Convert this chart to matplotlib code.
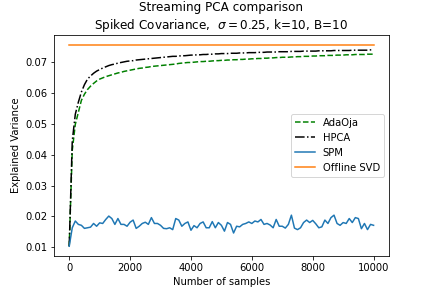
import numpy as np
import matplotlib
matplotlib.use("Agg")
import matplotlib.pyplot as plt

# Sample counts (every 100 samples)
n_samples = list(range(0, 10001, 100))

# Explained variance
adaoja = [0.0103, 0.0415, 0.0499, 0.0538, 0.0577, 0.0597, 0.0612, 0.0623, 0.0632, 0.0640,
          0.0646, 0.0650, 0.0654, 0.0657, 0.0660, 0.0663, 0.0666, 0.0668, 0.0671, 0.0673,
          0.0675, 0.0677, 0.0679, 0.0681, 0.0682, 0.0684, 0.0685, 0.0687, 0.0688, 0.0689,
          0.0690, 0.0691, 0.0692, 0.0693, 0.0694, 0.0695, 0.0697, 0.0698, 0.0699, 0.0700,
          0.0700, 0.0701, 0.0702, 0.0703, 0.0703, 0.0704, 0.0704, 0.0705, 0.0706, 0.0706,
          0.0707, 0.0707, 0.0708, 0.0708, 0.0709, 0.0709, 0.0710, 0.0710, 0.0711, 0.0711,
          0.0712, 0.0712, 0.0713, 0.0713, 0.0714, 0.0714, 0.0715, 0.0715, 0.0716, 0.0716,
          0.0717, 0.0717, 0.0717, 0.0718, 0.0718, 0.0719, 0.0719, 0.0720, 0.0720, 0.0720,
          0.0721, 0.0721, 0.0722, 0.0722, 0.0722, 0.0723, 0.0723, 0.0723, 0.0724, 0.0724,
          0.0724, 0.0725, 0.0725, 0.0725, 0.0726, 0.0726, 0.0726, 0.0726, 0.0727, 0.0727,
          0.0727]

hpca = [0.0103, 0.0445, 0.0532, 0.0571, 0.0604, 0.0628, 0.0646, 0.0656, 0.0665, 0.0672,
        0.0677, 0.0682, 0.0686, 0.0690, 0.0693, 0.0695, 0.0698, 0.0700, 0.0702, 0.0704,
        0.0705, 0.0706, 0.0708, 0.0709, 0.0710, 0.0711, 0.0712, 0.0713, 0.0714, 0.0715,
        0.0716, 0.0717, 0.0718, 0.0719, 0.0720, 0.0720, 0.0721, 0.0722, 0.0722, 0.0723,
        0.0724, 0.0724, 0.0725, 0.0725, 0.0726, 0.0726, 0.0727, 0.0727, 0.0728, 0.0728,
        0.0729, 0.0729, 0.0729, 0.0730, 0.0730, 0.0730, 0.0731, 0.0731, 0.0731, 0.0732,
        0.0732, 0.0732, 0.0733, 0.0733, 0.0733, 0.0734, 0.0734, 0.0734, 0.0734, 0.0735,
        0.0735, 0.0735, 0.0735, 0.0736, 0.0736, 0.0736, 0.0736, 0.0737, 0.0737, 0.0737,
        0.0737, 0.0737, 0.0738, 0.0738, 0.0738, 0.0738, 0.0738, 0.0739, 0.0739, 0.0739,
        0.0739, 0.0739, 0.0739, 0.0740, 0.0740, 0.0740, 0.0740, 0.0740, 0.0740, 0.0741,
        0.0741]

spm = [0.0103, 0.0163, 0.0185, 0.0174, 0.0171, 0.0161, 0.0163, 0.0165, 0.0177, 0.0168,
       0.0179, 0.0177, 0.0190, 0.0201, 0.0193, 0.0174, 0.0193, 0.0174, 0.0174, 0.0168,
       0.0181, 0.0188, 0.0161, 0.0168, 0.0177, 0.0181, 0.0174, 0.0196, 0.0177, 0.0177,
       0.0171, 0.0161, 0.0160, 0.0163, 0.0157, 0.0193, 0.0188, 0.0168, 0.0177, 0.0182,
       0.0155, 0.0170, 0.0163, 0.0177, 0.0182, 0.0163, 0.0163, 0.0183, 0.0163, 0.0180,
       0.0171, 0.0152, 0.0180, 0.0174, 0.0146, 0.0168, 0.0166, 0.0174, 0.0177, 0.0182,
       0.0177, 0.0185, 0.0182, 0.0190, 0.0174, 0.0177, 0.0172, 0.0163, 0.0190, 0.0168,
       0.0168, 0.0162, 0.0174, 0.0204, 0.0162, 0.0157, 0.0163, 0.0180, 0.0188, 0.0180,
       0.0187, 0.0176, 0.0163, 0.0166, 0.0188, 0.0177, 0.0196, 0.0204, 0.0177, 0.0171,
       0.0180, 0.0177, 0.0193, 0.0180, 0.0196, 0.0193, 0.0160, 0.0177, 0.0157, 0.0174,
       0.0171]

offline_svd = 0.0758

fig, ax = plt.subplots(figsize=(6, 4), dpi=72)

ax.plot(n_samples, adaoja, 'g--', label='AdaOja')
ax.plot(n_samples, hpca, 'k-.', label='HPCA')
ax.plot(n_samples, spm, color='C0', label='SPM')
ax.plot(n_samples, [offline_svd] * len(n_samples), color='C1', label='Offline SVD')

ax.set_xlabel('Number of samples')
ax.set_ylabel('Explained Variance')
ax.set_title('Streaming PCA comparison\nSpiked Covariance,  $\\sigma=0.25$, k=10, B=10')
ax.legend(loc='center right')

plt.savefig('out.png', dpi=72)
